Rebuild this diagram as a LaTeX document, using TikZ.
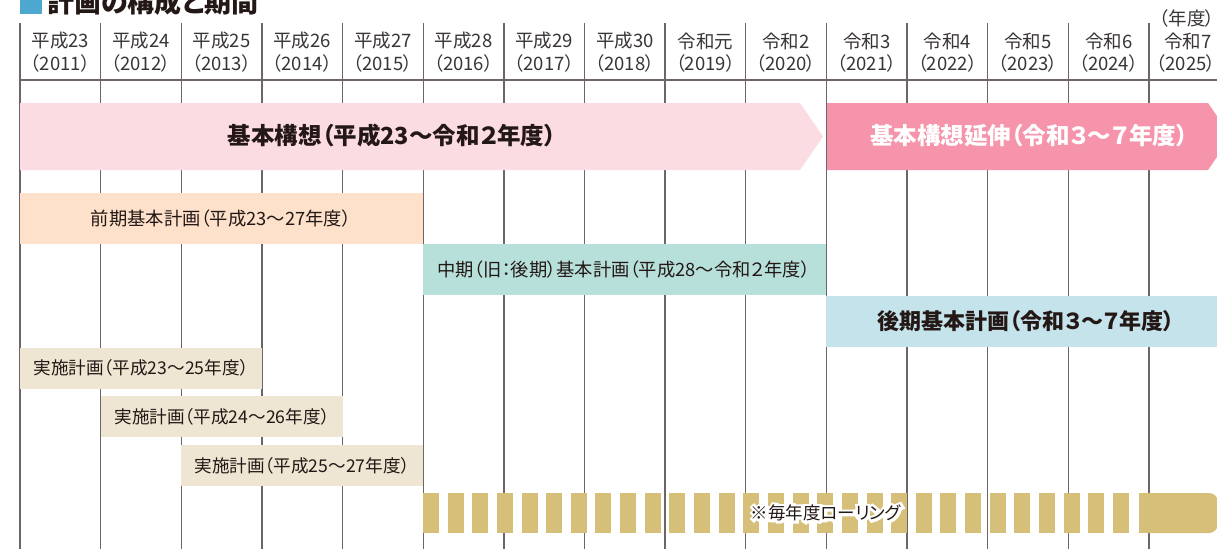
\documentclass[tikz,border=0pt]{standalone}
\usepackage{fontspec}
\setmainfont{Noto Sans CJK JP}[RawFeature=+palt]
\newfontfamily\jpfont{Noto Sans CJK JP}[RawFeature=+palt]
\newfontfamily\halofont{Noto Sans CJK JP}[RawFeature=+palt,FakeBold=30]
\usetikzlibrary{calc}
\definecolor{gridc}{HTML}{6E6666}
\definecolor{pinkL}{HTML}{FCDCE3}
\definecolor{pinkD}{HTML}{F594AA}
\definecolor{peach}{HTML}{FDE1CB}
\definecolor{tealc}{HTML}{B7E0DB}
\definecolor{lblue}{HTML}{C5E3EB}
\definecolor{beige}{HTML}{EEE6D2}
\definecolor{gold}{HTML}{D5BF79}
\definecolor{titleblue}{HTML}{4CA8CF}
\definecolor{txt}{HTML}{231815}
\definecolor{hdrc}{HTML}{3A3535}
\begin{document}
\begin{tikzpicture}[x=1pt,y=-1pt,
  hdr/.style={text=hdrc,inner sep=0pt,font=\jpfont\fontsize{18.5}{19}\selectfont},
  gridline/.style={draw=gridc,line width=1.4pt},
  smalltxt/.style={text=txt,inner sep=0pt,font=\jpfont\fontsize{18.3}{19}\selectfont},
  bigtxt/.style={text=txt,inner sep=0pt,font=\jpfont\bfseries\fontsize{23.5}{24}\selectfont},
  rolltxt/.style={inner sep=0pt,font=\jpfont\fontsize{17.5}{18}\selectfont}]
\useasboundingbox (0,0) rectangle (1217,549);
\fill[white] (0,0) rectangle (1217,549);
% title
\fill[titleblue] (20,-10) rectangle (42,14);
\node[anchor=base west,inner sep=0pt,text=txt,font=\jpfont\bfseries\fontsize{27}{27}\selectfont] (title) at (47,12) {計画の構成と期間};
% grid
\foreach \i in {0,...,14}
  \draw[gridline] ({20+80.64*\i},23) -- ({20+80.64*\i},549);
\draw[gridline] (20,80) -- (1217,80);
% header
\foreach \i/\a/\b in {0/平成23/2011,1/平成24/2012,2/平成25/2013,3/平成26/2014,4/平成27/2015,5/平成28/2016,6/平成29/2017,7/平成30/2018,8/令和元/2019,9/令和2/2020,10/令和3/2021,11/令和4/2022,12/令和5/2023,13/令和6/2024}{
  \node[hdr] (ha\i) at ({20+80.64*(\i+0.5)},41) {\a};
  \node[hdr] (hb\i) at ({20+80.64*(\i+0.5)},63) {（\b）};
}
\node[hdr] (ha14) at (1188,41) {令和7};
\node[hdr,anchor=east] (hb14) at (1216,63) {（2025）};
\node[hdr,anchor=east] (unit) at (1215,18) {（年度）};
% bands
\fill[pinkL] (20,103) -- (800,103) -- (823,136.5) -- (800,170) -- (20,170) -- cycle;
\node[bigtxt] (kihon) at (392,136) {基本構想（平成23～令和２年度）};
\fill[pinkD] (827,103) -- (1208,103) -- (1231,136.5) -- (1208,170) -- (827,170) -- cycle;
\node[bigtxt,text=white] (encho) at (1029,136) {基本構想延伸（令和３～７年度）};
\fill[peach] (20,193) rectangle (423,244);
\node[smalltxt] (zenki) at (221,218.5) {前期基本計画（平成23～27年度）};
\fill[tealc] (423,244) rectangle (826,295);
\node[smalltxt] (chuki) at (624,269.5) {中期（旧：後期）基本計画（平成28～令和２年度）};
\fill[lblue] (826,296) rectangle (1217,347);
\node[bigtxt,font=\jpfont\bfseries\fontsize{22}{22}\selectfont] (koki) at (1026,321.5) {後期基本計画（令和３～７年度）};
\fill[beige] (20,348) rectangle (262,389);
\node[smalltxt,font=\jpfont\fontsize{17.6}{18}\selectfont] (jisshi1) at (141,368) {実施計画（平成23～25年度）};
\fill[beige] (100.6,396) rectangle (343,437);
\node[smalltxt,font=\jpfont\fontsize{17.6}{18}\selectfont] (jisshi2) at (222,416.5) {実施計画（平成24～26年度）};
\fill[beige] (181,445) rectangle (423,486);
\node[smalltxt,font=\jpfont\fontsize{17.6}{18}\selectfont] (jisshi3) at (302,465.5) {実施計画（平成25～27年度）};
% rolling bar
\foreach \k in {0,...,28}
  \fill[gold] ({423+24.64*\k},493) rectangle ++(16,40);
\fill[gold,rounded corners=9pt] (1139,493) rectangle (1218,533);
\fill[gold] (1139,493) rectangle (1170,533);
\node[rolltxt,text=white,font=\halofont\fontsize{17.5}{18}\selectfont] (halo) at (826,513) {※毎年度ローリング};
\node[rolltxt,text=txt] (roll) at (826,513) {※毎年度ローリング};
\end{tikzpicture}
\end{document}
